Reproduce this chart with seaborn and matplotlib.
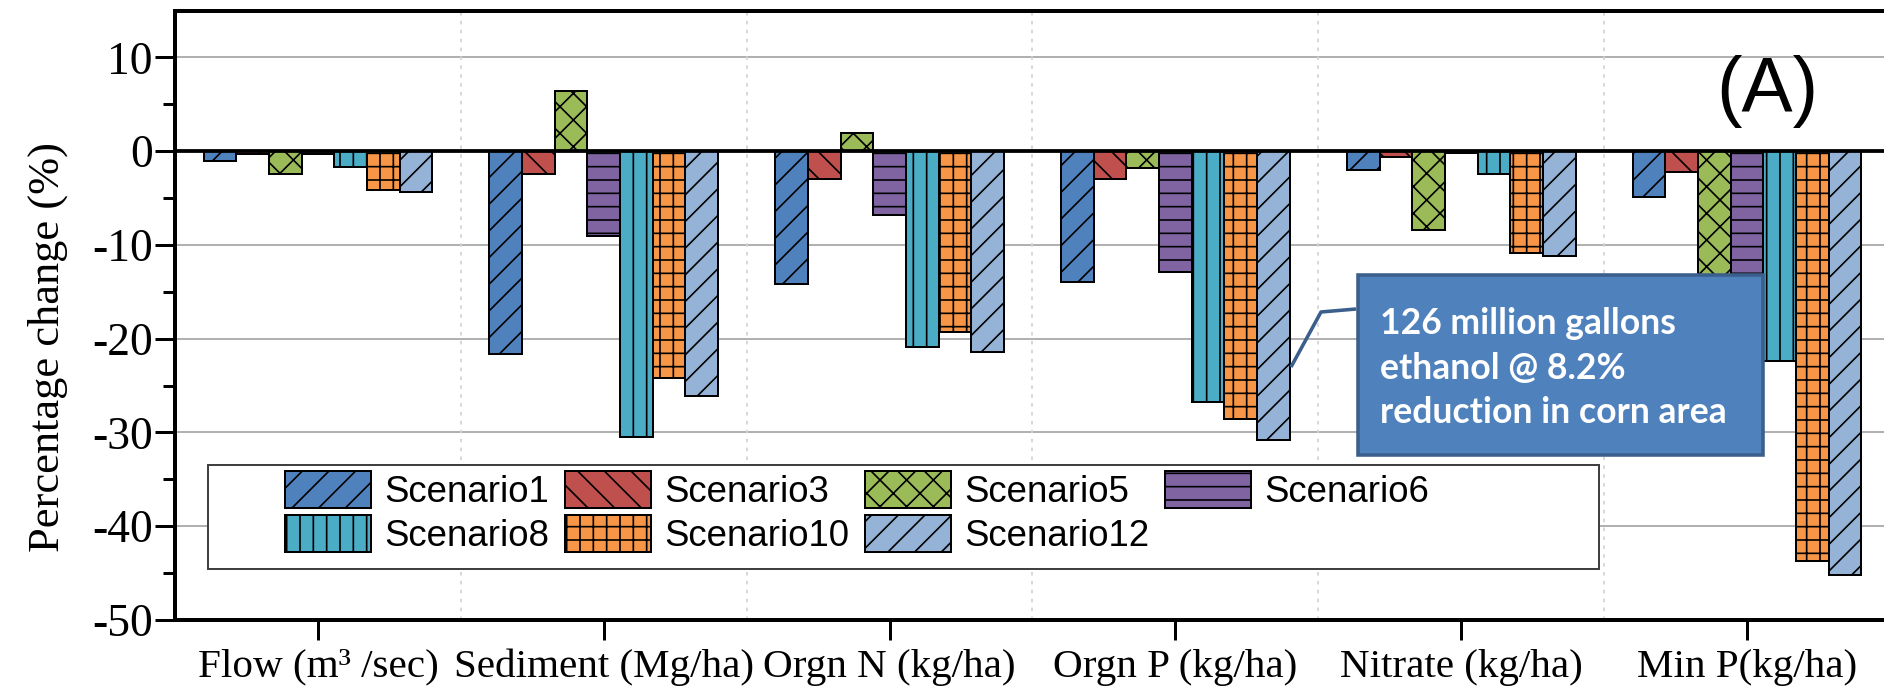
import numpy as np
import pandas as pd
import matplotlib
matplotlib.use("Agg")
import matplotlib.pyplot as plt
import seaborn as sns
from matplotlib.patches import Rectangle, Patch
from matplotlib.lines import Line2D

# ---------------- data ----------------
categories = ["Flow (m\u00b3 /sec)", "Sediment (Mg/ha)", "Orgn N (kg/ha)",
              "Orgn P (kg/ha)", "Nitrate (kg/ha)", "Min P(kg/ha)"]
scenarios = ["Scenario1", "Scenario3", "Scenario5", "Scenario6",
             "Scenario8", "Scenario10", "Scenario12"]

scenario1 = [-1.1, -21.6, -14.2, -14.0, -2.0, -4.9]
scenario3 = [-0.3, -2.4, -3.0, -3.0, -0.6, -2.2]
scenario5 = [-2.4, 6.4, 1.9, -1.8, -8.4, -16.0]
scenario6 = [-0.3, -9.1, -6.8, -12.9, -0.2, -15.0]
scenario8 = [-1.7, -30.5, -20.9, -26.8, -2.4, -22.4]
scenario10 = [-4.1, -24.2, -19.3, -28.6, -10.9, -43.7]
scenario12 = [-4.4, -26.1, -21.4, -30.8, -11.2, -45.2]

yticks = [10, 0, -10, -20, -30, -40, -50]
annotation_lines = ["126 million gallons", "ethanol @ 8.2%", "reduction in corn area"]
panel_label = "(A)"

series = [scenario1, scenario3, scenario5, scenario6, scenario8, scenario10, scenario12]
colors = ["#4F81BD", "#C0504D", "#9BBB59", "#8064A2", "#4BACC6", "#F79646", "#95B3D7"]
hatches = ["/", "\\", "x", "-", "|", "+", "/"]

rows = []
for s, vals in zip(scenarios, series):
    for c, v in zip(categories, vals):
        rows.append({"category": c, "scenario": s, "value": v})
df = pd.DataFrame(rows)

# ---------------- style ----------------
DPI = 80
W, H = 1884, 695
plt.rcParams["font.family"] = ["Liberation Serif", "DejaVu Serif"]
plt.rcParams["axes.unicode_minus"] = False
plt.rcParams["hatch.linewidth"] = 1.5

fig = plt.figure(figsize=(W / DPI, H / DPI), dpi=DPI)
ax_left, ax_right, ax_top, ax_bottom = 175, 1890, 10.5, 620
ax = fig.add_axes([ax_left / W, 1 - ax_bottom / H, (ax_right - ax_left) / W, (ax_bottom - ax_top) / H])

sns.barplot(data=df, x="category", y="value", hue="scenario", order=categories,
            hue_order=scenarios, palette=colors, saturation=1, errorbar=None,
            width=0.8, edgecolor="black", linewidth=1.8, legend=False, ax=ax, zorder=2)
for cont, h in zip(ax.containers, hatches):
    for bar in cont:
        bar.set_hatch(h)

ax.set_xlim(-0.5, 5.5)
ax.set_ylim(-50, 15)
ax.set_yticks(yticks)
ax.set_yticks(np.arange(-45, 10, 10), minor=True)
ax.set_xlabel("")
ax.set_ylabel("")

ax.set_axisbelow(True)
for y in yticks:
    if y not in (0, -50):
        ax.axhline(y, color="#a8a8a8", lw=1.6, zorder=0)
for xb in np.arange(0.5, 5.0, 1.0):
    ax.axvline(xb, color="#d4d4d4", lw=1.6, ls=(0, (2, 3)), zorder=0)
ax.axhline(0, color="black", lw=3.4, zorder=3)

for side in ["left", "bottom", "top"]:
    ax.spines[side].set_linewidth(3.6)
    ax.spines[side].set_color("black")
ax.spines["right"].set_visible(False)

ax.tick_params(axis="both", which="major", direction="out", length=18, width=2.7,
               color="black")
ax.tick_params(axis="y", which="minor", direction="out", length=11, width=2.7, color="black")
ax.tick_params(axis="y", labelsize=41, pad=2)
ax.tick_params(axis="x", labelsize=37, pad=8)

fig.text(48 / W, 1 - 347 / H, "Percentage change (%)", rotation=90, ha="center",
         va="center", fontsize=40)

# ---------------- legend ----------------
axw = ax_right - ax_left
axh = ax_bottom - ax_top
frame = Rectangle(((208 - ax_left) / axw, (ax_bottom - 569) / axh),
                  (1599 - 208) / axw, (569 - 465) / axh, transform=ax.transAxes,
                  facecolor="white", edgecolor="#404040", lw=1.8, zorder=4)
ax.add_patch(frame)

fs_leg = 33
fs_px = fs_leg * DPI / 72
handles = [Patch(facecolor=c, edgecolor="black", hatch=h, linewidth=1.8)
           for c, h in zip(colors, hatches)]
order = [0, 4, 1, 5, 2, 6, 3]
leg = ax.legend([handles[i] for i in order], [scenarios[i] for i in order], ncol=4,
                loc="upper left",
                bbox_to_anchor=((285 - ax_left) / axw, (ax_bottom - 471) / axh),
                frameon=False, prop={"family": "Liberation Sans", "size": fs_leg},
                handlelength=86 / fs_px, handleheight=43 / fs_px,
                handletextpad=13 / fs_px, columnspacing=16 / fs_px,
                labelspacing=5 / fs_px, borderpad=0, borderaxespad=0)
leg.set_zorder(5)

# ---------------- annotation ----------------
box = Rectangle((1358 / W, 1 - 455 / H), (1763 - 1358) / W, (455 - 275) / H,
                transform=fig.transFigure, facecolor="#4F81BD", edgecolor="#3A5F8C",
                lw=3.2, zorder=6, clip_on=False)
ax.add_patch(box)
conn = Line2D(np.array([1356, 1321, 1291]) / W, 1 - np.array([309, 312, 367]) / H,
              transform=fig.transFigure, color="#3A5F8C", lw=3.2, zorder=6,
              solid_capstyle="butt", clip_on=False)
ax.add_line(conn)
for txt, yb in zip(annotation_lines, [334, 379, 423]):
    ax.text(1380 / W, 1 - yb / H, txt, transform=fig.transFigure, ha="left",
            va="baseline", color="white", fontsize=32, fontweight="bold",
            family=["Lato", "DejaVu Sans"], zorder=7, clip_on=False)

fig.text(1767 / W, 1 - 112 / H, panel_label, ha="center", va="baseline",
         fontsize=69, family=["Liberation Sans", "DejaVu Sans"])

fig.savefig("out.png", dpi=DPI)
